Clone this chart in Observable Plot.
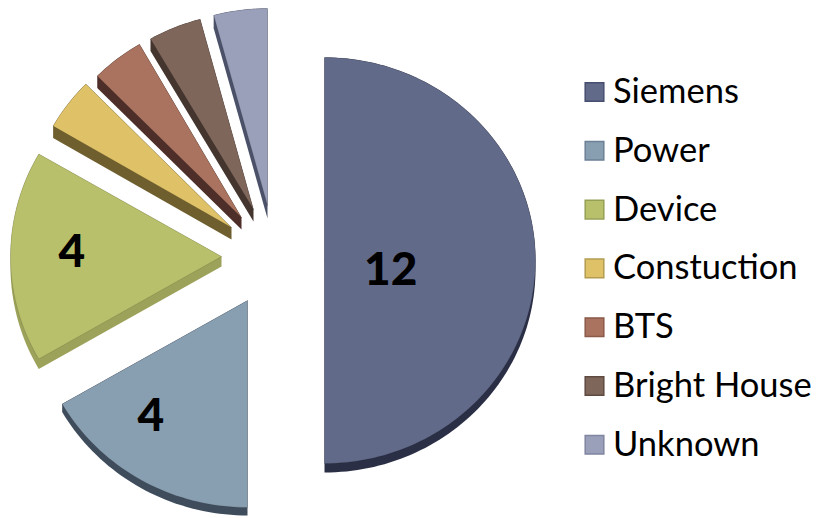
<!DOCTYPE html>
<html>
<head>
<meta charset="utf-8">
<script src="https://cdn.jsdelivr.net/npm/d3@7"></script>
<script src="https://cdn.jsdelivr.net/npm/@observablehq/plot@0.6"></script>
<style>html,body{margin:0;padding:0;background:#fff;overflow:hidden}svg{display:block}</style>
</head>
<body>
<div id="chart"></div>
<script>
const categories = ["Siemens", "Power", "Device", "Constuction", "BTS", "Bright House", "Unknown"];
const values = [12, 4, 4, 1, 1, 1, 1];
const shownLabels = ["12", "4", "4", "", "", "", ""];

const faceColors = ["#626a8a", "#889eb1", "#b9c06b", "#dfc267", "#a9735f", "#7f665b", "#9a9fba"];
const sideColors = ["#2b2f45", "#3f4c5b", "#9da25a", "#6f5f2f", "#4d2e28", "#44352f", "#4b5168"];
const legendEdges = ["#474e70", "#6d8196", "#96a055", "#b39c50", "#8a5a4a", "#5f4a42", "#8085a0"];

// pie layout settings
const W = 817, H = 518;
const pieCenter = [271, 258];
const radiusX = [211, 214, 211, 206, 204, 206, 208];
const radiusY = [203, 207, 205, 203, 200, 197, 197];
const explodeX = [53, -24, -50, -40, -30, -18, -4];
const explodeY = [2, 42, -2, -31, -41, -49, -53];
const depth = [9, 8, 10, 12, 12, 12, 13];
const labelAngle = [98.8, 219, 271.6];
const labelFraction = [0.318, 0.717, 0.71];

const total = d3.sum(values);
let running = 0;
const slices = categories.map((name, i) => {
  const a0 = running / total * 2 * Math.PI;
  running += values[i];
  const a1 = running / total * 2 * Math.PI;
  const cx = pieCenter[0] + explodeX[i];
  const cy = pieCenter[1] + explodeY[i];
  const n = Math.max(8, Math.round(values[i] * 10));
  const face = [[cx, cy]];
  for (let k = 0; k <= n; k++) {
    const a = a0 + (a1 - a0) * k / n;
    face.push([cx + radiusX[i] * Math.sin(a), cy - radiusY[i] * Math.cos(a)]);
  }
  const side = d3.polygonHull(face.concat(face.map(([x, y]) => [x, y + depth[i]])));
  return {name, i, cx, cy, face, side};
});

const facePts = slices.flatMap(s => s.face.concat([s.face[0]]).map(([x, y]) => ({name: s.name, x, y})));
const sidePts = slices.flatMap(s => s.side.concat([s.side[0]]).map(([x, y]) => ({name: s.name, x, y, c: sideColors[s.i]})));

const labelRows = slices.filter(s => shownLabels[s.i]).map((s, j) => {
  const a = labelAngle[j] * Math.PI / 180;
  return {
    text: shownLabels[s.i],
    x: s.cx + radiusX[s.i] * labelFraction[j] * Math.sin(a),
    y: s.cy - radiusY[s.i] * labelFraction[j] * Math.cos(a)
  };
});

const legendRows = categories.map((name, i) => ({name, edge: legendEdges[i], x: 594, tx: 612.5, y: 91.5 + i * 58.8}));

const plot = Plot.plot({
  width: W, height: H,
  margin: 0,
  x: {domain: [0, W], range: [0, W], axis: null},
  y: {domain: [0, H], range: [0, H], axis: null},
  color: {domain: categories, range: faceColors},
  style: {background: "#fff"},
  marks: [
    Plot.line(sidePts, {x: "x", y: "y", z: "name", fill: {value: d => d.c, scale: null}, stroke: null}),
    Plot.line(facePts, {x: "x", y: "y", z: "name", fill: "name", stroke: "#000", strokeOpacity: 0.12, strokeWidth: 1}),
    Plot.text(labelRows, {x: "x", y: "y", text: "text", fontFamily: "Lato", fontWeight: 900, fontSize: 46, fill: "#000"}),
    Plot.dot(legendRows, {x: "x", y: "y", symbol: "square", r: 10.5, fill: "name", stroke: "edge", strokeWidth: 1.5}),
    Plot.text(legendRows, {x: "tx", y: "y", text: "name", textAnchor: "start", fontFamily: "Lato", fontSize: 34.5, fill: "#000"})
  ]
});
document.getElementById("chart").append(plot);
</script>
</body>
</html>
